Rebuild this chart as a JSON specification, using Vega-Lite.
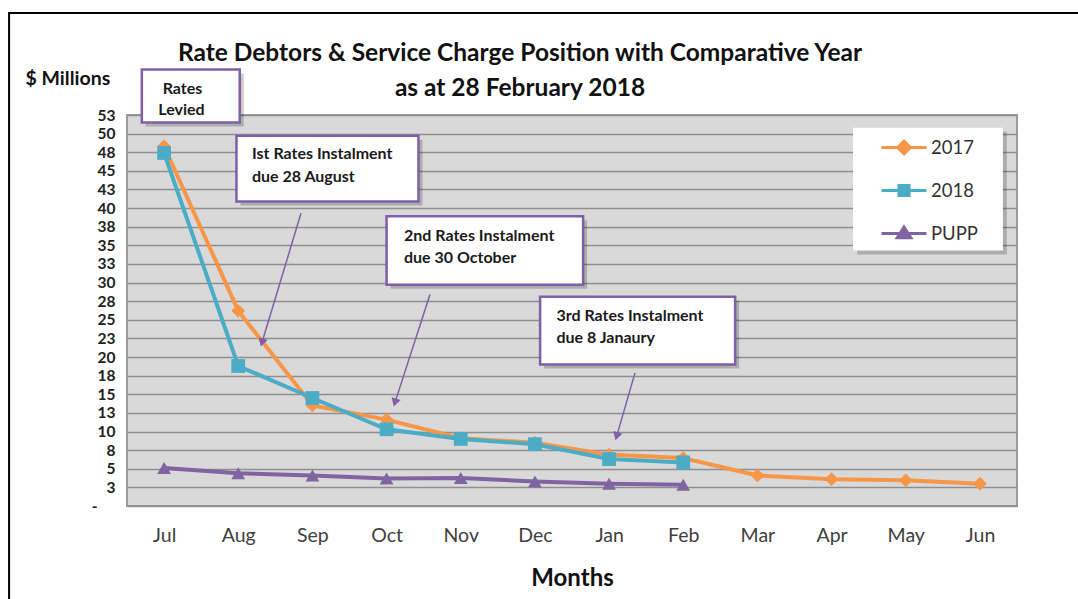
{
  "$schema": "https://vega.github.io/schema/vega-lite/v6.json",
  "width": 890,
  "height": 391,
  "autosize": {"type": "none"},
  "padding": {"left": 127, "top": 115, "right": 61, "bottom": 93},
  "background": "white",
  "config": {
    "font": "Lato",
    "view": {"fill": "#d9d9d9", "stroke": "#9a9a9a", "strokeWidth": 2},
    "axisX": {
      "title": "Months", "titleFontSize": 24, "titleFontWeight": "bold", "titleColor": "#111", "titlePadding": 22,
      "labelFontSize": 19.5, "labelFontWeight": "normal", "labelColor": "#404040", "labelAngle": 0, "labelPadding": 20,
      "labelFlush": false, "labelOverlap": false, "ticks": false, "domain": false, "grid": false
    },
    "axisY": {
      "labelOverlap": false, "labelFlush": false,
      "labelFontSize": 15.5, "labelFontWeight": "bold", "labelColor": "#222",
      "titleAngle": 0, "titleAlign": "left", "titleBaseline": "middle",
      "titleX": -102, "titleY": -37, "titleFontSize": 19.5, "titleFontWeight": "bold", "titleColor": "#111",
      "ticks": false, "domain": false, "grid": true, "gridColor": "#8f8f8f", "gridWidth": 1.3
    }
  },
  "title": {
    "text": ["Rate Debtors & Service Charge Position with Comparative Year", "as at 28 February 2018"],
    "font": "Lato",
    "fontSize": 24.5,
    "fontWeight": "bold",
    "color": "#111",
    "anchor": "middle",
    "frame": "group",
    "dx": -52,
    "dy": 104,
    "lineHeight": 35,
    "offset": 14
  },
  "datasets": {
    "series": [
      {"m": 0, "month": "Jul", "series": "2017", "value": 48.3},
      {"m": 1, "month": "Aug", "series": "2017", "value": 26.2},
      {"m": 2, "month": "Sep", "series": "2017", "value": 13.5},
      {"m": 3, "month": "Oct", "series": "2017", "value": 11.6},
      {"m": 4, "month": "Nov", "series": "2017", "value": 9.1},
      {"m": 5, "month": "Dec", "series": "2017", "value": 8.5},
      {"m": 6, "month": "Jan", "series": "2017", "value": 6.9},
      {"m": 7, "month": "Feb", "series": "2017", "value": 6.45},
      {"m": 8, "month": "Mar", "series": "2017", "value": 4.1},
      {"m": 9, "month": "Apr", "series": "2017", "value": 3.6},
      {"m": 10, "month": "May", "series": "2017", "value": 3.45},
      {"m": 11, "month": "Jun", "series": "2017", "value": 3.0},
      {"m": 0, "month": "Jul", "series": "2018", "value": 47.4},
      {"m": 1, "month": "Aug", "series": "2018", "value": 18.8},
      {"m": 2, "month": "Sep", "series": "2018", "value": 14.5},
      {"m": 3, "month": "Oct", "series": "2018", "value": 10.3},
      {"m": 4, "month": "Nov", "series": "2018", "value": 9.0},
      {"m": 5, "month": "Dec", "series": "2018", "value": 8.3},
      {"m": 6, "month": "Jan", "series": "2018", "value": 6.3},
      {"m": 7, "month": "Feb", "series": "2018", "value": 5.85},
      {"m": 0, "month": "Jul", "series": "PUPP", "value": 5.1},
      {"m": 1, "month": "Aug", "series": "PUPP", "value": 4.4},
      {"m": 2, "month": "Sep", "series": "PUPP", "value": 4.1},
      {"m": 3, "month": "Oct", "series": "PUPP", "value": 3.7},
      {"m": 4, "month": "Nov", "series": "PUPP", "value": 3.75},
      {"m": 5, "month": "Dec", "series": "PUPP", "value": 3.3},
      {"m": 6, "month": "Jan", "series": "PUPP", "value": 3.0},
      {"m": 7, "month": "Feb", "series": "PUPP", "value": 2.85}
    ],
    "callouts": [
      {"x": -0.30, "x2": 1.02, "y": 51.5, "y2": 58.6},
      {"x": 0.976, "x2": 3.43, "y": 40.9, "y2": 49.7},
      {"x": 3.0, "x2": 5.65, "y": 29.7, "y2": 38.9},
      {"x": 5.07, "x2": 7.70, "y": 19.0, "y2": 28.1}
    ],
    "legendbox": [
      {"x": 9.29, "x2": 11.31, "y": 34.3, "y2": 50.8}
    ],
    "frame": [
      {"x": -2.09, "x2": 13.5, "y": -20, "y2": 66.2}
    ],
    "notes": [
      {"x": -0.019, "y": 56.0, "text": "Rates"},
      {"x": -0.078, "y": 53.2, "text": "Levied"},
      {"x": 1.185, "y": 47.2, "text": "Ist Rates Instalment"},
      {"x": 1.185, "y": 44.2, "text": "due 28 August"},
      {"x": 3.235, "y": 36.2, "text": "2nd Rates Instalment"},
      {"x": 3.235, "y": 33.3, "text": "due 30 October"},
      {"x": 5.29, "y": 25.5, "text": "3rd Rates Instalment"},
      {"x": 5.29, "y": 22.6, "text": "due 8 Janaury"}
    ],
    "arrows": [
      {"x": 1.846, "y": 39.3, "x2": 1.32, "y2": 21.95},
      {"x": 3.585, "y": 28.4, "x2": 3.113, "y2": 13.88},
      {"x": 6.349, "y": 17.88, "x2": 6.102, "y2": 9.35}
    ]
  },
  "layer": [
    {
      "data": {"name": "series"},
      "mark": {"type": "line", "strokeWidth": 4},
      "encoding": {
        "x": {"field": "m", "type": "quantitative", "scale": {"domain": [-0.5, 11.5], "nice": false, "zero": false},
          "axis": {"title": "Months", "values": [0, 1, 2, 3, 4, 5, 6, 7, 8, 9, 10, 11], "labelExpr": "['Jul','Aug','Sep','Oct','Nov','Dec','Jan','Feb','Mar','Apr','May','Jun'][datum.value]"}},
        "y": {"field": "value", "type": "quantitative", "scale": {"domain": [0, 52.5], "nice": false, "zero": false},
          "axis": {"title": "$ Millions", "values": [0, 2.5, 5, 7.5, 10, 12.5, 15, 17.5, 20, 22.5, 25, 27.5, 30, 32.5, 35, 37.5, 40, 42.5, 45, 47.5, 50, 52.5], "labelExpr": "datum.value === 0 ? '-' : '' + round(datum.value)", "labelPadding": {"condition": {"test": "datum.value === 0", "value": 30}, "value": 12}}},
        "color": {
          "field": "series", "type": "nominal",
          "scale": {"domain": ["2017", "2018", "PUPP"], "range": ["#F79646", "#4BACC6", "#8064A2"]},
          "legend": {
            "orient": "none", "legendX": 753, "legendY": 22.5, "title": null, "padding": 0,
            "labelFont": "Lato", "labelFontSize": 18.5, "labelColor": "#333", "labelOffset": 31,
            "rowPadding": 18, "symbolSize": 289, "symbolStrokeWidth": 3,
            "encode": {
              "symbols": {
                "update": {
                  "shape": {"signal": "datum.value === '2017' ? 'M-1,0H4.29M1.65,-0.75L2.4,0L1.65,0.75L0.9,0Z' : datum.value === '2018' ? 'M-1,0H4.29M1.05,-0.6H2.25V0.6H1.05Z' : 'M-1,0H4.29M1.65,-0.75L2.45,0.5H0.85Z'"},
                  "fill": {"signal": "scale('color', datum.value)"},
                  "stroke": {"signal": "scale('color', datum.value)"},
                  "strokeWidth": {"value": 3},
                  "opacity": {"value": 1}
                }
              }
            }
          }
        }
      }
    },
    {
      "data": {"name": "series"},
      "mark": {"type": "point", "filled": true, "size": 190, "opacity": 1},
      "encoding": {
        "x": {"field": "m", "type": "quantitative", "scale": {"domain": [-0.5, 11.5], "nice": false, "zero": false},
          "axis": {"title": "Months", "values": [0, 1, 2, 3, 4, 5, 6, 7, 8, 9, 10, 11], "labelExpr": "['Jul','Aug','Sep','Oct','Nov','Dec','Jan','Feb','Mar','Apr','May','Jun'][datum.value]"}},
        "y": {"field": "value", "type": "quantitative", "scale": {"domain": [0, 52.5], "nice": false, "zero": false},
          "axis": {"title": "$ Millions", "values": [0, 2.5, 5, 7.5, 10, 12.5, 15, 17.5, 20, 22.5, 25, 27.5, 30, 32.5, 35, 37.5, 40, 42.5, 45, 47.5, 50, 52.5], "labelExpr": "datum.value === 0 ? '-' : '' + round(datum.value)", "labelPadding": {"condition": {"test": "datum.value === 0", "value": 30}, "value": 12}}},
        "color": {"field": "series", "type": "nominal", "scale": {"domain": ["2017", "2018", "PUPP"], "range": ["#F79646", "#4BACC6", "#8064A2"]}},
        "shape": {
          "condition": [
            {"test": "datum.series === '2017'", "value": "diamond"},
            {"test": "datum.series === '2018'", "value": "square"}
          ],
          "value": "triangle-up"
        }
      }
    },
    {
      "data": {"name": "arrows"},
      "mark": {"type": "rule", "color": "#7F5FA8", "strokeWidth": 1.5},
      "encoding": {
        "x": {"field": "x", "type": "quantitative", "scale": {"domain": [-0.5, 11.5], "nice": false, "zero": false},
          "axis": {"title": "Months", "values": [0, 1, 2, 3, 4, 5, 6, 7, 8, 9, 10, 11], "labelExpr": "['Jul','Aug','Sep','Oct','Nov','Dec','Jan','Feb','Mar','Apr','May','Jun'][datum.value]"}},
        "y": {"field": "y", "type": "quantitative", "scale": {"domain": [0, 52.5], "nice": false, "zero": false},
          "axis": {"title": "$ Millions", "values": [0, 2.5, 5, 7.5, 10, 12.5, 15, 17.5, 20, 22.5, 25, 27.5, 30, 32.5, 35, 37.5, 40, 42.5, 45, 47.5, 50, 52.5], "labelExpr": "datum.value === 0 ? '-' : '' + round(datum.value)", "labelPadding": {"condition": {"test": "datum.value === 0", "value": 30}, "value": 12}}},
        "x2": {"field": "x2"},
        "y2": {"field": "y2"}
      }
    },
    {
      "data": {"name": "arrows"},
      "mark": {"type": "point", "shape": "triangle-up", "filled": true, "size": 90, "angle": 197, "color": "#7F5FA8", "opacity": 1},
      "encoding": {
        "x": {"field": "x2", "type": "quantitative", "scale": {"domain": [-0.5, 11.5], "nice": false, "zero": false},
          "axis": {"title": "Months", "values": [0, 1, 2, 3, 4, 5, 6, 7, 8, 9, 10, 11], "labelExpr": "['Jul','Aug','Sep','Oct','Nov','Dec','Jan','Feb','Mar','Apr','May','Jun'][datum.value]"}},
        "y": {"field": "y2", "type": "quantitative", "scale": {"domain": [0, 52.5], "nice": false, "zero": false},
          "axis": {"title": "$ Millions", "values": [0, 2.5, 5, 7.5, 10, 12.5, 15, 17.5, 20, 22.5, 25, 27.5, 30, 32.5, 35, 37.5, 40, 42.5, 45, 47.5, 50, 52.5], "labelExpr": "datum.value === 0 ? '-' : '' + round(datum.value)", "labelPadding": {"condition": {"test": "datum.value === 0", "value": 30}, "value": 12}}}
      }
    },
    {
      "data": {"name": "callouts"},
      "mark": {"type": "rect", "fill": "#000", "opacity": 0.2, "xOffset": 4, "x2Offset": 4, "yOffset": 4, "y2Offset": 4},
      "encoding": {
        "x": {"field": "x", "type": "quantitative", "scale": {"domain": [-0.5, 11.5], "nice": false, "zero": false},
          "axis": {"title": "Months", "values": [0, 1, 2, 3, 4, 5, 6, 7, 8, 9, 10, 11], "labelExpr": "['Jul','Aug','Sep','Oct','Nov','Dec','Jan','Feb','Mar','Apr','May','Jun'][datum.value]"}},
        "x2": {"field": "x2"},
        "y": {"field": "y", "type": "quantitative", "scale": {"domain": [0, 52.5], "nice": false, "zero": false},
          "axis": {"title": "$ Millions", "values": [0, 2.5, 5, 7.5, 10, 12.5, 15, 17.5, 20, 22.5, 25, 27.5, 30, 32.5, 35, 37.5, 40, 42.5, 45, 47.5, 50, 52.5], "labelExpr": "datum.value === 0 ? '-' : '' + round(datum.value)", "labelPadding": {"condition": {"test": "datum.value === 0", "value": 30}, "value": 12}}},
        "y2": {"field": "y2"}
      }
    },
    {
      "data": {"name": "callouts"},
      "mark": {"type": "rect", "fill": "white", "stroke": "#7F5FA8", "strokeWidth": 2.5},
      "encoding": {
        "x": {"field": "x", "type": "quantitative", "scale": {"domain": [-0.5, 11.5], "nice": false, "zero": false},
          "axis": {"title": "Months", "values": [0, 1, 2, 3, 4, 5, 6, 7, 8, 9, 10, 11], "labelExpr": "['Jul','Aug','Sep','Oct','Nov','Dec','Jan','Feb','Mar','Apr','May','Jun'][datum.value]"}},
        "x2": {"field": "x2"},
        "y": {"field": "y", "type": "quantitative", "scale": {"domain": [0, 52.5], "nice": false, "zero": false},
          "axis": {"title": "$ Millions", "values": [0, 2.5, 5, 7.5, 10, 12.5, 15, 17.5, 20, 22.5, 25, 27.5, 30, 32.5, 35, 37.5, 40, 42.5, 45, 47.5, 50, 52.5], "labelExpr": "datum.value === 0 ? '-' : '' + round(datum.value)", "labelPadding": {"condition": {"test": "datum.value === 0", "value": 30}, "value": 12}}},
        "y2": {"field": "y2"}
      }
    },
    {
      "data": {"name": "legendbox"},
      "mark": {"type": "rect", "fill": "#000", "opacity": 0.2, "xOffset": 4, "x2Offset": 4, "yOffset": 4, "y2Offset": 4},
      "encoding": {
        "x": {"field": "x", "type": "quantitative", "scale": {"domain": [-0.5, 11.5], "nice": false, "zero": false},
          "axis": {"title": "Months", "values": [0, 1, 2, 3, 4, 5, 6, 7, 8, 9, 10, 11], "labelExpr": "['Jul','Aug','Sep','Oct','Nov','Dec','Jan','Feb','Mar','Apr','May','Jun'][datum.value]"}},
        "x2": {"field": "x2"},
        "y": {"field": "y", "type": "quantitative", "scale": {"domain": [0, 52.5], "nice": false, "zero": false},
          "axis": {"title": "$ Millions", "values": [0, 2.5, 5, 7.5, 10, 12.5, 15, 17.5, 20, 22.5, 25, 27.5, 30, 32.5, 35, 37.5, 40, 42.5, 45, 47.5, 50, 52.5], "labelExpr": "datum.value === 0 ? '-' : '' + round(datum.value)", "labelPadding": {"condition": {"test": "datum.value === 0", "value": 30}, "value": 12}}},
        "y2": {"field": "y2"}
      }
    },
    {
      "data": {"name": "legendbox"},
      "mark": {"type": "rect", "fill": "white"},
      "encoding": {
        "x": {"field": "x", "type": "quantitative", "scale": {"domain": [-0.5, 11.5], "nice": false, "zero": false},
          "axis": {"title": "Months", "values": [0, 1, 2, 3, 4, 5, 6, 7, 8, 9, 10, 11], "labelExpr": "['Jul','Aug','Sep','Oct','Nov','Dec','Jan','Feb','Mar','Apr','May','Jun'][datum.value]"}},
        "x2": {"field": "x2"},
        "y": {"field": "y", "type": "quantitative", "scale": {"domain": [0, 52.5], "nice": false, "zero": false},
          "axis": {"title": "$ Millions", "values": [0, 2.5, 5, 7.5, 10, 12.5, 15, 17.5, 20, 22.5, 25, 27.5, 30, 32.5, 35, 37.5, 40, 42.5, 45, 47.5, 50, 52.5], "labelExpr": "datum.value === 0 ? '-' : '' + round(datum.value)", "labelPadding": {"condition": {"test": "datum.value === 0", "value": 30}, "value": 12}}},
        "y2": {"field": "y2"}
      }
    },
    {
      "data": {"name": "frame"},
      "mark": {"type": "rect", "fill": null, "fillOpacity": 0, "stroke": "#000", "strokeWidth": 2},
      "encoding": {
        "x": {"field": "x", "type": "quantitative", "scale": {"domain": [-0.5, 11.5], "nice": false, "zero": false},
          "axis": {"title": "Months", "values": [0, 1, 2, 3, 4, 5, 6, 7, 8, 9, 10, 11], "labelExpr": "['Jul','Aug','Sep','Oct','Nov','Dec','Jan','Feb','Mar','Apr','May','Jun'][datum.value]"}},
        "x2": {"field": "x2"},
        "y": {"field": "y", "type": "quantitative", "scale": {"domain": [0, 52.5], "nice": false, "zero": false},
          "axis": {"title": "$ Millions", "values": [0, 2.5, 5, 7.5, 10, 12.5, 15, 17.5, 20, 22.5, 25, 27.5, 30, 32.5, 35, 37.5, 40, 42.5, 45, 47.5, 50, 52.5], "labelExpr": "datum.value === 0 ? '-' : '' + round(datum.value)", "labelPadding": {"condition": {"test": "datum.value === 0", "value": 30}, "value": 12}}},
        "y2": {"field": "y2"}
      }
    },
    {
      "data": {"name": "notes"},
      "mark": {"type": "text", "align": "left", "baseline": "middle", "font": "Lato", "fontSize": 16, "fontWeight": "bold", "color": "#1a1a1a"},
      "encoding": {
        "x": {"field": "x", "type": "quantitative", "scale": {"domain": [-0.5, 11.5], "nice": false, "zero": false},
          "axis": {"title": "Months", "values": [0, 1, 2, 3, 4, 5, 6, 7, 8, 9, 10, 11], "labelExpr": "['Jul','Aug','Sep','Oct','Nov','Dec','Jan','Feb','Mar','Apr','May','Jun'][datum.value]"}},
        "y": {"field": "y", "type": "quantitative", "scale": {"domain": [0, 52.5], "nice": false, "zero": false},
          "axis": {"title": "$ Millions", "values": [0, 2.5, 5, 7.5, 10, 12.5, 15, 17.5, 20, 22.5, 25, 27.5, 30, 32.5, 35, 37.5, 40, 42.5, 45, 47.5, 50, 52.5], "labelExpr": "datum.value === 0 ? '-' : '' + round(datum.value)", "labelPadding": {"condition": {"test": "datum.value === 0", "value": 30}, "value": 12}}},
        "text": {"field": "text"}
      }
    }
  ]
}
